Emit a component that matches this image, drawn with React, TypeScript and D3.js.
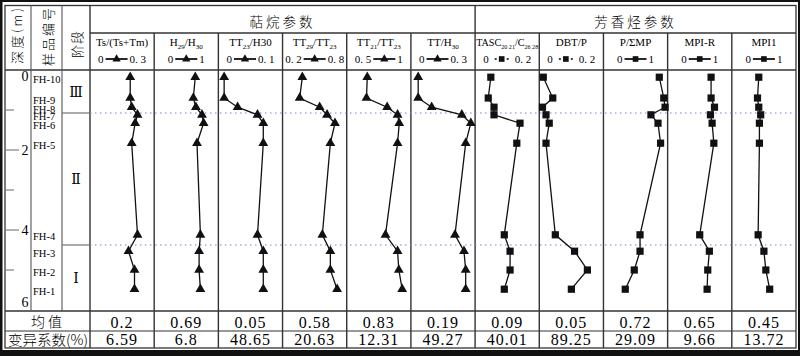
import React from "react";
import * as d3 from "d3";

// ---------- data ----------
const samples = ["FH-10", "FH-9", "FH-8", "FH-7", "FH-6", "FH-5", "FH-4", "FH-3", "FH-2", "FH-1"];
const depths = [0.18, 0.7, 0.93, 1.12, 1.33, 1.83, 4.12, 4.53, 5.0, 5.48];
const stageNames = ["Ⅲ", "Ⅱ", "Ⅰ"];
const stageBounds = [0, 1.075, 4.375, 6];
const depthTickValues = [1, 2, 3, 4, 5];
const depthLabelValues = [0, 2, 4, 6];

const tsRatio = [0.188, 0.188, 0.195, 0.222, 0.211, 0.195, 0.222, 0.18, 0.208, 0.208];
const h29h30 = [0.64, 0.61, 0.65, 0.745, 0.77, 0.667, 0.72, 0.7, 0.7, 0.72];
const tt23h30 = [0.009, 0.009, 0.03, 0.061, 0.07, 0.07, 0.061, 0.07, 0.07, 0.07];
const tt29tt23 = [0.385, 0.36, 0.547, 0.616, 0.69, 0.647, 0.572, 0.647, 0.647, 0.71];
const tt21tt23 = [0.66, 0.654, 0.815, 0.896, 0.909, 0.896, 0.802, 0.896, 0.906, 0.932];
const ttH30 = [0.034, 0.034, 0.097, 0.238, 0.28, 0.256, 0.206, 0.248, 0.256, 0.256];
const tasc = [0.049, 0.041, 0.059, 0.059, 0.14, 0.13, 0.091, 0.109, 0.109, 0.091];
const dbtP = [0.0125, 0.042, 0.01, 0.021, 0.031, 0.021, 0.05, 0.11, 0.15, 0.1];
const pSumMP = [0.87, 0.94, 0.96, 0.74, 0.85, 0.89, 0.57, 0.57, 0.48, 0.34];
const mpiR = [0.677, 0.677, 0.73, 0.667, 0.693, 0.72, 0.5, 0.65, 0.625, 0.615];
const mpi1 = [0.42, 0.4, 0.42, 0.45, 0.43, 0.43, 0.41, 0.5, 0.53, 0.59];

const seriesValues = [tsRatio, h29h30, tt23h30, tt29tt23, tt21tt23, ttH30, tasc, dbtP, pSumMP, mpiR, mpi1];
const domainMin = [0, 0, 0, 0.2, 0.5, 0, 0, 0, 0, 0, 0];
const domainMax = [0.3, 1, 0.1, 0.8, 1, 0.3, 0.2, 0.2, 1, 1, 1];
const legendLeft = ["0", "0", "0", "0. 2", "0. 5", "0", "0", "0", "0", "0", "0"];
const legendRight = ["0. 3", "1", "0. 1", "0. 8", "1", "0. 3", "0. 2", "0. 2", "1", "1", "1"];
const markerTypes = ["tri", "tri", "tri", "tri", "tri", "tri", "sq", "sq", "sq", "sq", "sq"];
const dottedLegend = [false, false, false, false, false, false, true, true, false, false, false];
type Seg = { t: string; sub?: boolean };
const titleParts: Seg[][] = [
  [{ t: "Ts/(Ts+Tm)" }],
  [{ t: "H" }, { t: "29", sub: true }, { t: "/H" }, { t: "30", sub: true }],
  [{ t: "TT" }, { t: "23", sub: true }, { t: "/H30" }],
  [{ t: "TT" }, { t: "29", sub: true }, { t: "/TT" }, { t: "23", sub: true }],
  [{ t: "TT" }, { t: "21", sub: true }, { t: "/TT" }, { t: "23", sub: true }],
  [{ t: "TT/H" }, { t: "30", sub: true }],
  [{ t: "TASC" }, { t: "20 21", sub: true }, { t: "/C" }, { t: "26 28", sub: true }],
  [{ t: "DBT/P" }],
  [{ t: "P/ΣMP" }],
  [{ t: "MPI-R" }],
  [{ t: "MPI1" }],
];
const groupTitles = ["萜烷参数", "芳香烃参数"];
const groupSpans = [[0, 6], [6, 11]];
const means = ["0.2", "0.69", "0.05", "0.58", "0.83", "0.19", "0.09", "0.05", "0.72", "0.65", "0.45"];
const cvs = ["6.59", "6.8", "48.65", "20.63", "12.31", "49.27", "40.01", "89.25", "29.09", "9.66", "13.72"];

// ---------- layout ----------
const FONT = "'Liberation Serif','Noto Sans CJK SC',serif";
const CJK = "'Noto Sans CJK SC','Noto Sans CJK JP',sans-serif";
const GRID = "#333";
const L0 = 5, R0 = 796, T0 = 5.5, B0 = 348;
const X_DEPTH = 31, X_SAMPLE = 62, X_DATA = 90;
const Y_GROUP = 33, Y_DATA_TOP = 70, Y_DATA_BOT = 311, Y_ROW = 331;

function estW(s: string) {
  let w = 0;
  for (const c of s) w += c === "." || c === " " ? 2.75 : 5.5;
  return w;
}

function Marker({ type, x, y, size }: { type: string; x: number; y: number; size: number }) {
  const sym = d3.symbol(type === "tri" ? d3.symbolTriangle : d3.symbolSquare, size);
  return <path d={sym() || ""} transform={`translate(${x},${y})`} fill="#111" />;
}

export default function App() {
  const yScale = d3.scaleLinear().domain([0, 6]).range([Y_DATA_TOP, 310]);
  const band = d3.scaleBand<number>().domain(d3.range(seriesValues.length)).range([X_DATA, R0]);
  const bw = band.bandwidth();

  return (
    <svg width={800} height={356} style={{ position: "absolute", left: 0, top: 0 }} fontFamily={FONT}>
      <rect x={0} y={0} width={800} height={356} fill="#111" />
      <rect x={2.5} y={2} width={795.5} height={348} fill="#fff" />
      <rect x={L0} y={T0} width={R0 - L0} height={B0 - T0} fill="none" stroke={GRID} strokeWidth={1.3} />

      {/* horizontal grid lines */}
      <line x1={X_DATA} x2={R0} y1={Y_GROUP} y2={Y_GROUP} stroke={GRID} strokeWidth={1.3} />
      <line x1={L0} x2={R0} y1={Y_DATA_TOP} y2={Y_DATA_TOP} stroke={GRID} strokeWidth={1.3} />
      <line x1={L0} x2={R0} y1={Y_DATA_BOT} y2={Y_DATA_BOT} stroke={GRID} strokeWidth={1.3} />
      <line x1={L0} x2={R0} y1={Y_ROW} y2={Y_ROW} stroke={GRID} strokeWidth={1.1} />

      {/* left vertical lines */}
      <line x1={X_DEPTH} x2={X_DEPTH} y1={T0} y2={Y_DATA_BOT} stroke="#555" strokeWidth={1.1} />
      <line x1={X_SAMPLE} x2={X_SAMPLE} y1={T0} y2={Y_DATA_BOT} stroke="#555" strokeWidth={1.1} />
      <line x1={X_DATA} x2={X_DATA} y1={T0} y2={B0} stroke={GRID} strokeWidth={1.4} />

      {/* column dividers */}
      {d3.range(1, seriesValues.length).map((i) => (
        <line
          key={"cd" + i}
          x1={band(i)!}
          x2={band(i)!}
          y1={i === 6 ? T0 : Y_GROUP}
          y2={B0}
          stroke={GRID}
          strokeWidth={1.4}
        />
      ))}

      {/* group titles */}
      {groupTitles.map((g, i) => {
        const x1 = band(groupSpans[i][0])!;
        const x2 = i === 0 ? band(groupSpans[i][1])! : R0;
        return (
          <text key={g} x={(x1 + x2) / 2} y={27} textAnchor="middle" fontSize={13.5} letterSpacing={3} fontFamily={CJK} fontWeight={300}>
            {g}
          </text>
        );
      })}

      {/* left header labels (vertical) */}
      <text transform="translate(16.5,36) rotate(-90)" textAnchor="middle" dominantBaseline="central" fontSize={13} textLength={56} lengthAdjust="spacing" fontFamily={CJK} fontWeight={300}>
        深度(m)
      </text>
      <text transform="translate(47.5,37) rotate(-90)" textAnchor="middle" dominantBaseline="central" fontSize={13} textLength={58} lengthAdjust="spacing" fontFamily={CJK} fontWeight={300}>
        样品编号
      </text>
      <text transform="translate(76.5,44) rotate(-90)" textAnchor="middle" dominantBaseline="central" fontSize={13} letterSpacing={1} fontFamily={CJK} fontWeight={300}>
        阶段
      </text>

      {/* depth axis */}
      {depthTickValues.map((d) => (
        <line key={"t" + d} x1={L0} x2={d % 2 === 0 ? 19 : 14} y1={yScale(d)} y2={yScale(d)} stroke="#777" strokeWidth={1.1} />
      ))}
      {depthLabelValues.map((d) => (
        <text key={"dl" + d} x={28.5} y={yScale(d) + (d === 0 ? 11 : d === 6 ? -3 : 5)} textAnchor="end" fontSize={14}>
          {d}
        </text>
      ))}

      {/* sample labels */}
      {samples.map((s, i) => (
        <text key={s} x={33} y={yScale(depths[i]) + 5.5} fontSize={10.5}>
          {s}
        </text>
      ))}

      {/* stages */}
      {stageBounds.slice(1, -1).map((b, i) => (
        <line key={"sb" + i} x1={X_SAMPLE} x2={X_DATA} y1={yScale(b)} y2={yScale(b)} stroke="#666" strokeWidth={1.1} />
      ))}
      {stageNames.map((s, i) => (
        <text
          key={s}
          x={76}
          y={(yScale(stageBounds[i]) + yScale(stageBounds[i + 1])) / 2 + 5}
          textAnchor="middle"
          fontSize={14}
          fill="#000"
          fontFamily="'DejaVu Serif','Liberation Serif',serif"
        >
          {s}
        </text>
      ))}

      {/* stage boundary dotted lines */}
      {stageBounds.slice(1, -1).map((b, i) => (
        <line
          key={"db" + i}
          x1={X_DATA}
          x2={R0}
          y1={yScale(b)}
          y2={yScale(b)}
          stroke="#8080c8"
          strokeWidth={1.2}
          strokeDasharray="1.5,3.5"
        />
      ))}

      {/* columns */}
      {seriesValues.map((vals, i) => {
        const x0 = band(i)!;
        const cx = x0 + bw / 2;
        const xs = d3.scaleLinear().domain([domainMin[i], domainMax[i]]).range([x0, x0 + bw]);
        const pts: [number, number][] = vals.map((v, k) => [xs(v), yScale(depths[k])]);
        const line = d3.line();
        let prevSub = false;
        const title = (
          <text
            x={cx}
            y={46}
            textAnchor="middle"
            fontSize={i === 6 ? 10 : 11}
            {...(i === 6 ? { textLength: 62, lengthAdjust: "spacingAndGlyphs" } : {})}
          >
            {titleParts[i].map((seg, k) => {
              const dy = seg.sub ? (prevSub ? 0 : 2.5) : prevSub ? -2.5 : 0;
              prevSub = !!seg.sub;
              return (
                <tspan key={k} dy={dy} fontSize={seg.sub ? (i === 6 ? 6 : 7) : undefined}>
                  {seg.t}
                </tspan>
              );
            })}
          </text>
        );
        const lw = estW(legendLeft[i]);
        const rw = estW(legendRight[i]);
        const half = 11;
        const gw = lw + 2 * (half + 1.5) + rw;
        const mx = cx - gw / 2 + lw + half + 1.5;
        const ly = 59;
        return (
          <g key={"col" + i}>
            {title}
            <text x={mx - half - 2} y={ly + 4} textAnchor="end" fontSize={11}>
              {legendLeft[i]}
            </text>
            <text x={mx + half + 2} y={ly + 4} textAnchor="start" fontSize={11}>
              {legendRight[i]}
            </text>
            {dottedLegend[i] ? (
              <>
                <line x1={mx - 7} x2={mx - 5} y1={ly} y2={ly} stroke="#111" strokeWidth={1.6} />
                <line x1={mx + 5} x2={mx + 7} y1={ly} y2={ly} stroke="#111" strokeWidth={1.6} />
              </>
            ) : (
              <line x1={mx - half} x2={mx + half} y1={ly} y2={ly} stroke="#111" strokeWidth={1.8} />
            )}
            <Marker type={markerTypes[i]} x={mx} y={ly} size={markerTypes[i] === "tri" ? 30 : 32} />
            <path d={line(pts) || ""} fill="none" stroke="#111" strokeWidth={1.3} />
            {pts.map((p, k) => (
              <Marker key={k} type={markerTypes[i]} x={p[0]} y={p[1]} size={markerTypes[i] === "tri" ? 42 : 52} />
            ))}
            <text x={cx} y={327.5} textAnchor="middle" fontSize={16} letterSpacing={1}>
              {means[i]}
            </text>
            <text x={cx} y={345} textAnchor="middle" fontSize={16} letterSpacing={1}>
              {cvs[i]}
            </text>
          </g>
        );
      })}

      {/* row labels */}
      <text x={48} y={327} textAnchor="middle" fontSize={14} letterSpacing={3} fontFamily={CJK} fontWeight={300}>
        均值
      </text>
      <text x={8} y={345} fontSize={14} textLength={80} lengthAdjust="spacingAndGlyphs" fontFamily={CJK} fontWeight={300}>
        变异系数(%)
      </text>
    </svg>
  );
}
